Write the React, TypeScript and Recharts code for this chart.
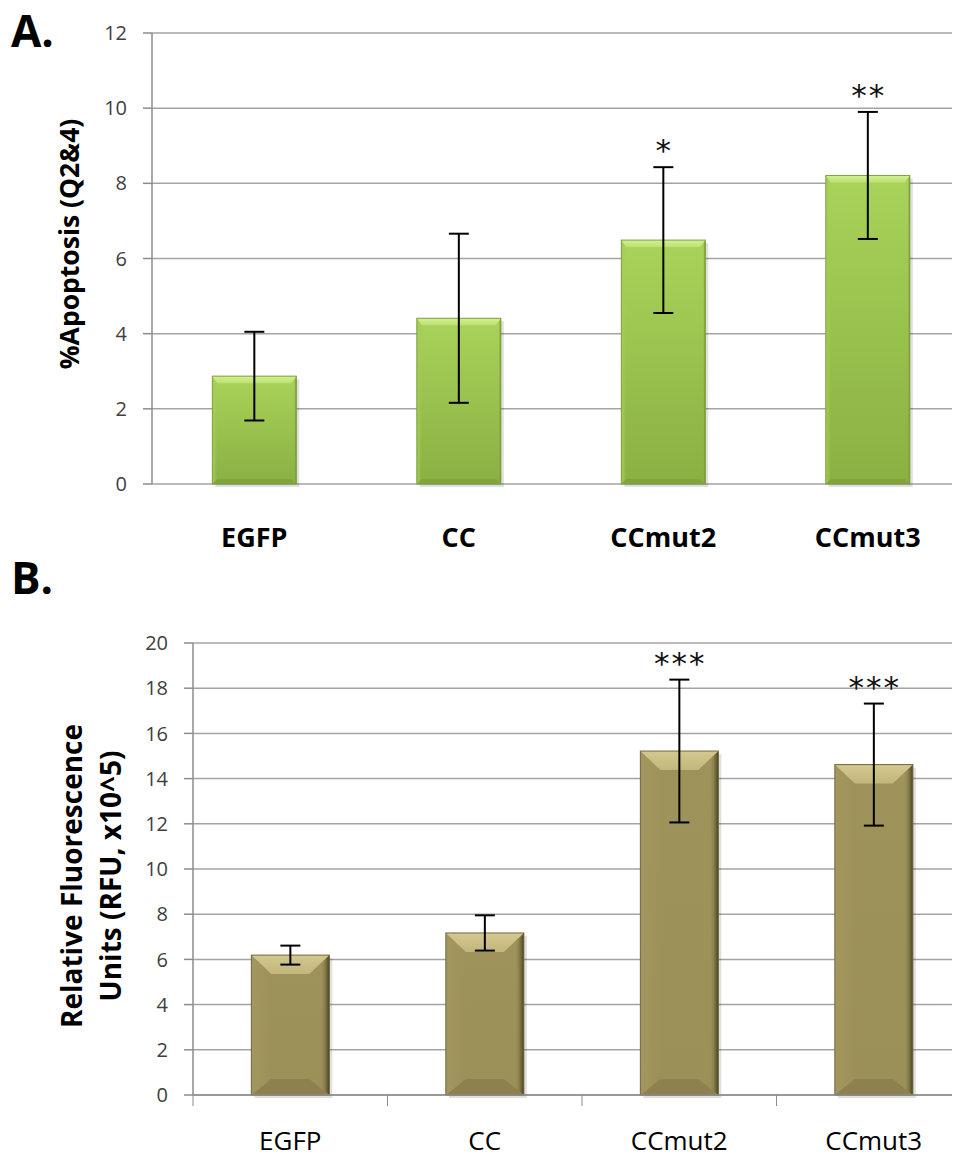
import React from "react";
import { BarChart, Bar, XAxis, YAxis, CartesianGrid, ErrorBar, LabelList } from "recharts";

const categories = ["EGFP", "CC", "CCmut2", "CCmut3"];

// panel A: % apoptosis
const apoptosisMean = [2.87, 4.41, 6.49, 8.21];
const apoptosisErr = [1.18, 2.25, 1.94, 1.69];
const apoptosisSig = ["", "", "*", "**"];
const apoptosisTicks = [0, 2, 4, 6, 8, 10, 12];

// panel B: relative fluorescence
const rfuMean = [6.19, 7.17, 15.22, 14.62];
const rfuErr = [0.42, 0.78, 3.16, 2.7];
const rfuSig = ["", "", "***", "***"];
const rfuTicks = [0, 2, 4, 6, 8, 10, 12, 14, 16, 18, 20];

const FONT = "'Open Sans', 'Noto Sans', sans-serif";
const GRID = "#a3a3a3";
const AXIS = "#8c8c8c";

const dataA = categories.map((name, i) => ({
  name,
  value: apoptosisMean[i],
  err: apoptosisErr[i],
  sig: apoptosisSig[i],
}));

const dataB = categories.map((name, i) => ({
  name,
  value: rfuMean[i],
  err: rfuErr[i],
  sig: rfuSig[i],
}));

interface BevelTheme {
  id: string;
  faceTop: string;
  faceBottom: string;
  top: string;
  topInner: string;
  bottom: string;
  left: string;
  rightEdge: string;
  edge: string;
  bevel: number;
  side: number;
  bottomBevel: number;
}

const greenTheme: BevelTheme = {
  id: "g",
  faceTop: "#a9d35a",
  faceBottom: "#8ab042",
  top: "#d4f08f",
  topInner: "#bce173",
  bottom: "#82a53b",
  left: "#a3cd56",
  rightEdge: "#6a8a2c",
  edge: "#809f40",
  bevel: 7,
  side: 5,
  bottomBevel: 5,
};

const oliveTheme: BevelTheme = {
  id: "o",
  faceTop: "#9f935c",
  faceBottom: "#9c9059",
  top: "#d3c88e",
  topInner: "#c2b67b",
  bottom: "#8d8150",
  left: "#a3975f",
  rightEdge: "#433e1e",
  edge: "#716842",
  bevel: 19,
  side: 20,
  bottomBevel: 16,
};

function BevelBar(props: any) {
  const { x, y, width: w, height: h, index, theme } = props;
  const t = theme as BevelTheme;
  if (!h || h <= 0) return null;
  const b = Math.min(t.bevel, h / 2);
  const bb = Math.min(t.bottomBevel, h / 2);
  const s = t.side;
  const gid = `${t.id}-${index}`;
  return (
    <g>
      <defs>
        <linearGradient id={`${gid}-face`} x1="0" y1="0" x2="0" y2="1">
          <stop offset="0%" stopColor={t.faceTop} />
          <stop offset="100%" stopColor={t.faceBottom} />
        </linearGradient>
        <linearGradient id={`${gid}-top`} x1="0" y1="0" x2="0" y2="1">
          <stop offset="0%" stopColor={t.top} />
          <stop offset="100%" stopColor={t.topInner} />
        </linearGradient>
        <linearGradient id={`${gid}-right`} x1="0" y1="0" x2="1" y2="0">
          <stop offset="0%" stopColor={t.faceBottom} stopOpacity={0} />
          <stop offset="55%" stopColor={t.faceBottom} stopOpacity={0} />
          <stop offset="100%" stopColor={t.rightEdge} stopOpacity={1} />
        </linearGradient>
        <linearGradient id={`${gid}-left`} x1="0" y1="0" x2="1" y2="0">
          <stop offset="0%" stopColor={t.left} stopOpacity={1} />
          <stop offset="100%" stopColor={t.left} stopOpacity={0} />
        </linearGradient>
      </defs>
      <rect x={x + 3} y={y + 3} width={w} height={h} fill="rgba(0,0,0,0.12)" />
      <rect x={x} y={y} width={w} height={h} fill={`url(#${gid}-face)`} />
      <polygon
        points={`${x},${y + h} ${x + w},${y + h} ${x + w - s},${y + h - bb} ${x + s},${y + h - bb}`}
        fill={t.bottom}
      />
      <polygon
        points={`${x},${y} ${x + s},${y + b} ${x + s},${y + h - bb} ${x},${y + h}`}
        fill={`url(#${gid}-left)`}
      />
      <polygon
        points={`${x + w},${y} ${x + w - s},${y + b} ${x + w - s},${y + h - bb} ${x + w},${y + h}`}
        fill={`url(#${gid}-right)`}
      />
      <polygon
        points={`${x},${y} ${x + w},${y} ${x + w - s},${y + b} ${x + s},${y + b}`}
        fill={`url(#${gid}-top)`}
      />
      <rect x={x} y={y} width={w} height={h} fill="none" stroke={t.edge} strokeWidth={1} />
    </g>
  );
}

const sigLabel = (means: number[], errs: number[]) => (props: any) => {
  const vb = props.viewBox ?? props;
  const { x, y, width, height } = vb;
  const { value, index } = props;
  if (!value) return null;
  const pxPerUnit = height / means[index];
  const errTop = y - errs[index] * pxPerUnit;
  return (
    <text
      x={x + width / 2 + 1}
      y={errTop - 6}
      textAnchor="middle"
      fontFamily="'DejaVu Sans', sans-serif"
      fontSize={31}
      letterSpacing={2}
      fill="#111"
    >
      {value}
    </text>
  );
};

function CategoryTick(props: any) {
  const { x, y, payload, bold, band, boundary, baseline } = props;
  return (
    <g>
      {boundary && (
        <line x1={x - band / 2} x2={x - band / 2} y1={y} y2={y + 11} stroke={AXIS} />
      )}
      <text
        x={x}
        y={y + baseline}
        textAnchor="middle"
        fontFamily={FONT}
        fontWeight={bold ? 700 : 400}
        fontSize={bold ? 27 : 26}
        fill="#000"
      >
        {payload.value}
      </text>
    </g>
  );
}

function AxisTitle(props: any) {
  const { lines, cx, cy, gap } = props;
  return (
    <g>
      {lines.map((line: string, i: number) => (
        <text
          key={line}
          x={cx + i * gap}
          y={cy}
          transform={`rotate(-90 ${cx + i * gap} ${cy})`}
          textAnchor="middle"
          fontFamily={FONT}
          fontWeight={700}
          fontSize={props.size}
          fill="#000"
        >
          {line}
        </text>
      ))}
    </g>
  );
}

const yTick = { fontSize: 20, fill: "#404040", fontFamily: FONT };

export default function App() {
  const bandA = (980 - 152 - 10) / categories.length;
  const bandB = (980 - 193 - 9) / categories.length;
  return (
    <div
      style={{
        position: "relative",
        marginLeft: -8,
        marginTop: -8,
        width: 960,
        height: 1158,
        overflow: "hidden",
        background: "#fff",
      }}
    >
      <svg width={960} height={1158} style={{ position: "absolute", left: 0, top: 0 }}>
        <text x={11} y={47} fontFamily={FONT} fontWeight={700} fontSize={44} fill="#000">
          A.
        </text>
        <text x={11} y={594} fontFamily={FONT} fontWeight={700} fontSize={44} fill="#000">
          B.
        </text>
      </svg>

      <div style={{ position: "absolute", left: 0, top: 0 }}>
        <BarChart
          width={980}
          height={560}
          data={dataA}
          margin={{ top: 33, right: 10, bottom: 0, left: 0 }}
          barCategoryGap="29.5%"
        >
          <CartesianGrid horizontal vertical={false} stroke={GRID} strokeWidth={1.5} />
          <XAxis
            dataKey="name"
            height={76}
            axisLine={false}
            tickLine={false}
            tickSize={0}
            tickMargin={0}
            interval={0}
            tick={(p: any) => (
              <CategoryTick {...p} bold band={bandA} boundary={false} baseline={63} />
            )}
          />
          <YAxis
            width={152}
            domain={[0, 12]}
            ticks={apoptosisTicks}
            interval={0}
            axisLine={{ stroke: AXIS, strokeWidth: 1.5 }}
            tickLine={{ stroke: AXIS, strokeWidth: 1.5 }}
            tickSize={9}
            tickMargin={16}
            tick={yTick}
            label={<AxisTitle lines={["%Apoptosis (Q2&4)"]} cx={79} cy={244} gap={0} size={26.5} />}
          />
          <Bar
            dataKey="value"
            isAnimationActive={false}
            shape={(p: any) => <BevelBar {...p} theme={greenTheme} />}
          >
            <ErrorBar
              dataKey="err"
              width={10}
              strokeWidth={2}
              stroke="#000"
              direction="y"
              isAnimationActive={false}
            />
            <LabelList dataKey="sig" content={sigLabel(apoptosisMean, apoptosisErr)} />
          </Bar>
        </BarChart>
      </div>

      <div style={{ position: "absolute", left: 0, top: 560 }}>
        <BarChart
          width={980}
          height={598}
          data={dataB}
          margin={{ top: 83, right: 9, bottom: 0, left: 0 }}
          barCategoryGap="30%"
        >
          <CartesianGrid horizontal vertical={false} stroke={GRID} strokeWidth={1.5} />
          <XAxis
            dataKey="name"
            height={63}
            axisLine={{ stroke: AXIS, strokeWidth: 1.5 }}
            tickLine={false}
            tickSize={0}
            tickMargin={0}
            interval={0}
            tick={(p: any) => (
              <CategoryTick {...p} bold={false} band={bandB} boundary baseline={55} />
            )}
          />
          <YAxis
            width={193}
            domain={[0, 20]}
            ticks={rfuTicks}
            interval={0}
            axisLine={{ stroke: AXIS, strokeWidth: 1.5 }}
            tickLine={{ stroke: AXIS, strokeWidth: 1.5 }}
            tickSize={9}
            tickMargin={16}
            tick={yTick}
            label={
              <AxisTitle
                lines={["Relative Fluorescence", "Units (RFU, x10^5)"]}
                cx={82}
                cy={316}
                gap={39}
                size={28}
              />
            }
          />
          <Bar
            dataKey="value"
            isAnimationActive={false}
            shape={(p: any) => <BevelBar {...p} theme={oliveTheme} />}
          >
            <ErrorBar
              dataKey="err"
              width={10}
              strokeWidth={2}
              stroke="#000"
              direction="y"
              isAnimationActive={false}
            />
            <LabelList dataKey="sig" content={sigLabel(rfuMean, rfuErr)} />
          </Bar>
        </BarChart>
      </div>
    </div>
  );
}
